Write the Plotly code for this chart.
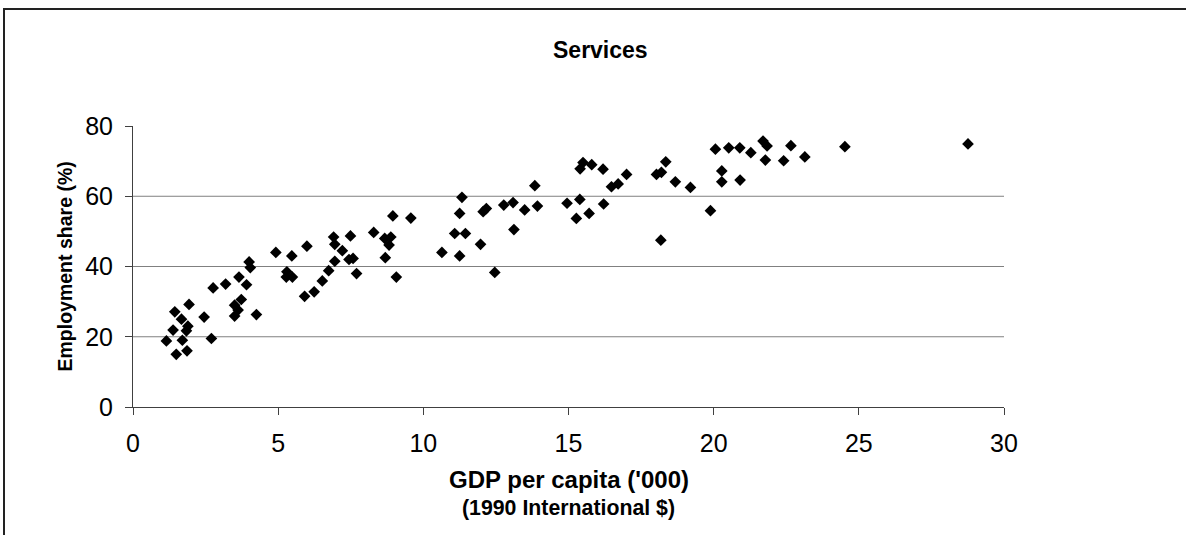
import plotly.graph_objects as go

# GDP per capita ('000, 1990 Int. $) and services employment share (%)
gdp = [
    4.00, 4.04, 4.92, 5.47, 5.30, 5.28, 5.49, 3.65, 3.19, 2.76, 3.91, 3.73, 3.50, 3.62, 3.50,
    4.25, 5.91, 1.93, 1.44, 1.67, 1.89, 1.84, 1.38, 2.45, 1.15, 1.70, 2.70, 1.49, 1.86,
    5.99, 6.24, 6.52, 6.74, 6.95, 6.91, 6.95, 7.21, 7.49, 7.44, 7.58, 7.70, 8.29, 8.67,
    8.88, 8.82, 8.69, 9.07, 10.64, 8.95, 9.57,
    11.33, 11.25, 11.08, 11.45, 11.25, 11.97, 12.46, 12.06, 12.17, 12.77, 13.09, 13.12,
    13.49, 13.84, 13.93, 14.95, 15.39, 15.27, 15.71, 16.21, 16.48, 16.71,
    15.40, 15.50, 15.80,
    16.19, 17.00, 18.03, 18.20, 18.35, 18.18, 18.68, 19.20, 19.89, 20.06, 20.28, 20.28,
    20.52, 20.90, 20.91, 21.28, 21.70, 21.84, 21.78, 22.41, 22.66, 23.14,
    24.52, 28.76,
]
share = [
    41.3, 39.7, 44.0, 43.0, 38.5, 37.0, 37.0, 37.0, 35.0, 33.9, 34.8, 30.6, 29.0, 27.6, 25.9,
    26.3, 31.5, 29.2, 27.1, 25.0, 23.0, 21.7, 21.9, 25.6, 18.8, 19.0, 19.5, 15.0, 16.0,
    45.8, 32.8, 35.9, 38.8, 41.5, 48.4, 46.3, 44.5, 48.7, 42.0, 42.3, 38.0, 49.7, 48.0,
    48.4, 46.1, 42.5, 37.0, 44.0, 54.4, 53.8,
    59.7, 55.1, 49.4, 49.4, 43.0, 46.3, 38.3, 55.6, 56.5, 57.5, 58.2, 50.5,
    56.1, 63.0, 57.2, 58.0, 59.1, 53.7, 55.1, 57.8, 62.7, 63.5,
    67.8, 69.6, 69.0,
    67.7, 66.2, 66.2, 66.8, 69.8, 47.5, 64.1, 62.5, 55.9, 73.4, 67.2, 64.1,
    73.8, 73.8, 64.6, 72.4, 75.7, 74.3, 70.3, 70.1, 74.4, 71.2,
    74.1, 74.9,
]

x_ticks = [0, 5, 10, 15, 20, 25, 30]
y_ticks = [0, 20, 40, 60, 80]
grid_vals = [20, 40, 60]

W, H = 1186, 535
L, R, T, B = 133, 182, 126, 128
pw, ph = W - L - R, H - T - B

FONT = "Liberation Sans, Arial, sans-serif"

fig = go.Figure()
fig.add_trace(go.Scatter(
    x=gdp, y=share, mode="markers",
    marker=dict(symbol="diamond", size=9, color="black", line=dict(width=0)),
    hoverinfo="x+y", showlegend=False,
))

for g in grid_vals:
    fig.add_hline(y=g, line=dict(color="#808080", width=1), layer="below")

axis_col = "#404040"
fig.update_xaxes(
    range=[0, 30], tickvals=x_ticks, ticks="outside", ticklen=7, tickcolor=axis_col,
    showline=True, linecolor=axis_col, linewidth=1, showgrid=False, zeroline=False,
    tickfont=dict(family=FONT, size=25, color="black"), fixedrange=True,
    ticklabelstandoff=7,
)
fig.update_yaxes(
    range=[0, 80], tickvals=y_ticks, ticks="outside", ticklen=7, tickcolor=axis_col,
    showline=True, linecolor=axis_col, linewidth=1, showgrid=False, zeroline=False,
    tickfont=dict(family=FONT, size=25, color="black"), fixedrange=True,
    ticklabelstandoff=7,
)

# outer chart frame: only left and top edges are visible in the image
fx0 = (4 - L) / pw
fx1 = (W - L) / pw
fy_top = (H - B - 9) / ph
fy_bot = -B / ph
fig.add_shape(type="path", xref="paper", yref="paper",
              path=f"M {fx0},{fy_bot} L {fx0},{fy_top} L {fx1},{fy_top}",
              line=dict(color="#222222", width=2), fillcolor="rgba(0,0,0,0)", layer="below")

fig.add_annotation(text="<b>Services</b>", xref="paper", yref="paper",
                   x=(600 - L) / pw, y=(H - B - 50) / ph, xanchor="center", yanchor="middle",
                   showarrow=False, font=dict(family=FONT, size=23, color="black"))
fig.add_annotation(text="<b>GDP per capita ('000)</b>", xref="paper", yref="paper",
                   x=0.5, y=0, yshift=-72, xanchor="center", yanchor="middle",
                   showarrow=False, font=dict(family=FONT, size=24, color="black"))
fig.add_annotation(text="<b>(1990 International $)</b>", xref="paper", yref="paper",
                   x=0.5, y=0, yshift=-101, xanchor="center", yanchor="middle",
                   showarrow=False, font=dict(family=FONT, size=21.3, color="black"))
fig.add_annotation(text="<b>Employment share (%)</b>", xref="paper", yref="paper",
                   x=0, xshift=-69, y=0.5, xanchor="center", yanchor="middle", textangle=-90,
                   showarrow=False, font=dict(family=FONT, size=19.5, color="black"))

fig.update_layout(
    width=W, height=H, autosize=False,
    margin=dict(l=L, r=R, t=T, b=B),
    paper_bgcolor="white", plot_bgcolor="white",
    font=dict(family=FONT),
)

fig.write_html(
    "out.html",
    config={"displayModeBar": False},
    post_script="document.body.style.margin='0';document.body.style.overflow='hidden';",
)
